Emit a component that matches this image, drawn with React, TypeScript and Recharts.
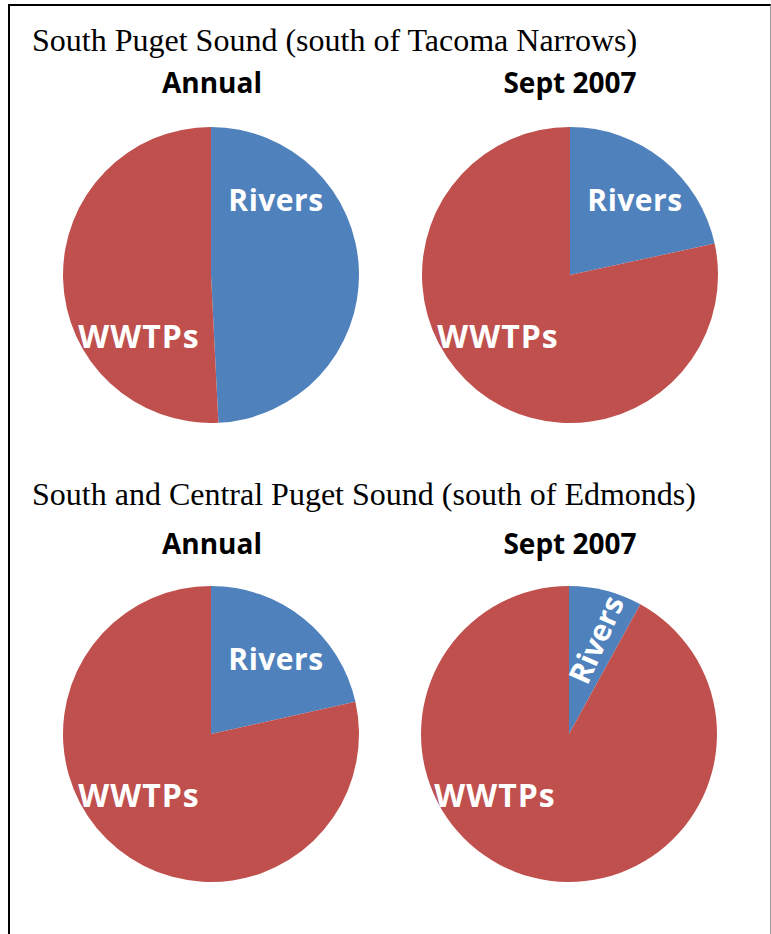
import React from "react";
import { PieChart, Pie, Cell } from "recharts";

const categories = ["Rivers", "WWTPs"];
const southAnnual = [49.2, 50.8];
const southSept = [21.6, 78.4];
const centralAnnual = [21.5, 78.5];
const centralSept = [8.0, 92.0];

const sectionTitles = [
  "South Puget Sound (south of Tacoma Narrows)",
  "South and Central Puget Sound (south of Edmonds)",
];
const pieTitles = ["Annual", "Sept 2007"];

const COLORS = ["#4F81BD", "#C0504D"];
const LABEL_FONT = "'Open Sans', sans-serif";

const toRows = (values: number[]) =>
  categories.map((name, i) => ({ name, value: values[i] }));

// label offsets from pie centre, per slice
const defaultOffsets = [
  { dx: 65, dy: -64, rot: 0, size: 30, ls: 0.5 },
  { dx: -72, dy: 73, rot: 0, size: 32, ls: 1 },
];
const narrowOffsets = [
  { dx: 28, dy: -84, rot: -66, size: 30, ls: 0 },
  { dx: -74, dy: 73, rot: 0, size: 32, ls: 1 },
];

const makeLabel = (offsets: typeof defaultOffsets) => (props: any) => {
  const { cx, cy, index, name } = props;
  const o = offsets[index];
  const x = cx + o.dx;
  const y = cy + o.dy;
  return (
    <text
      x={x}
      y={y}
      fill="#fff"
      textAnchor="middle"
      fontFamily={LABEL_FONT}
      fontWeight={700}
      fontSize={o.size}
      letterSpacing={o.ls}
      transform={o.rot ? `rotate(${o.rot} ${x} ${y - 10})` : undefined}
    >
      {name}
    </text>
  );
};

const pies = [
  { data: southAnnual, cx: 206, cy: 270, offsets: defaultOffsets },
  { data: southSept, cx: 565, cy: 270, offsets: defaultOffsets },
  { data: centralAnnual, cx: 206, cy: 729, offsets: defaultOffsets },
  { data: centralSept, cx: 564, cy: 729, offsets: narrowOffsets },
];

export default function App() {
  return (
    <div
      style={{
        position: "absolute",
        left: 0,
        top: 0,
        width: 771,
        height: 934,
        background: "#fff",
        overflow: "hidden",
      }}
    >
      <div
        style={{
          position: "absolute",
          left: 8,
          top: 4,
          width: 760,
          height: 940,
          borderLeft: "2px solid #000",
          borderTop: "2px solid #000",
          borderRight: "1px solid #999",
        }}
      />
      <div style={{ position: "absolute", left: 0, top: 0 }}>
        <PieChart width={771} height={934}>
          {pies.map((p, k) => (
            <Pie
              key={k}
              data={toRows(p.data)}
              dataKey="value"
              nameKey="name"
              cx={p.cx}
              cy={p.cy}
              outerRadius={148}
              startAngle={90}
              endAngle={-270}
              stroke="none"
              labelLine={false}
              label={makeLabel(p.offsets)}
              isAnimationActive={false}
            >
              {categories.map((c, i) => (
                <Cell key={c} fill={COLORS[i]} />
              ))}
            </Pie>
          ))}
        </PieChart>
      </div>
      <svg
        width={771}
        height={934}
        style={{ position: "absolute", left: 0, top: 0, pointerEvents: "none" }}
      >
        <text x={32} y={51} fontFamily="'Liberation Serif', serif" fontSize={32}>
          {sectionTitles[0]}
        </text>
        <text x={32} y={505} fontFamily="'Liberation Serif', serif" fontSize={32}>
          {sectionTitles[1]}
        </text>
        {[93, 554].map((y, r) =>
          [212, 570].map((x, c) => (
            <text
              key={`${r}-${c}`}
              x={x}
              y={y}
              textAnchor="middle"
              fontFamily={LABEL_FONT}
              fontWeight={700}
              fontSize={28}
              fill="#000"
            >
              {pieTitles[c]}
            </text>
          ))
        )}
      </svg>
    </div>
  );
}
